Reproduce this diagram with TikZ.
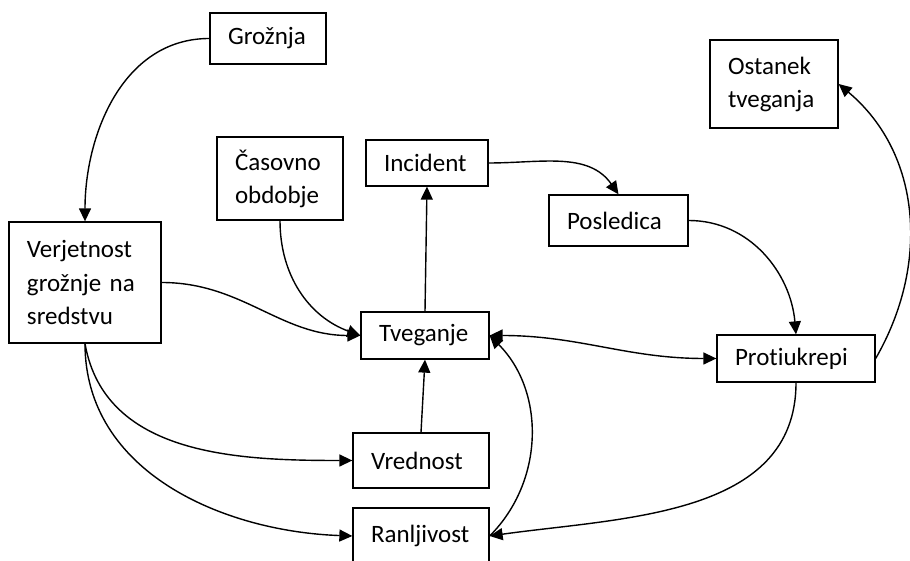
\documentclass[tikz,border=0pt]{standalone}
\usepackage{fontspec}
\setmainfont{Carlito}[Ligatures=NoCommon]
\usetikzlibrary{arrows.meta}

\begin{document}
\begin{tikzpicture}[x=1pt, y=1pt, >={Triangle[length=13pt, width=12pt]},
    box/.style={rectangle, draw, line width=1.3pt, align=left, inner xsep=18pt,
                inner ysep=2pt, font=\fontsize{25}{33}\selectfont},
    link/.style={line width=1.4pt}]
    \useasboundingbox (0,0) rectangle (910,561);

    \node[box, text width=80pt, minimum height=51pt] (groznja) at (268,522.5) {Grožnja};
    \node[box, text width=116pt, minimum height=121pt] (verjetnost) at (85,278.5) {Verjetnost\\grožnje na\\sredstvu};
    \node[box, text width=90pt, minimum height=83pt] (casovno) at (280,382.5) {Časovno\\obdobje};
    \node[box, text width=86pt, minimum height=46pt] (incident) at (427,398) {Incident};
    \node[box, text width=103pt, minimum height=51pt] (posledica) at (618.5,340.5) {Posledica};
    \node[box, text width=92pt, minimum height=88pt] (ostanek) at (774,477) {Ostanek\\tveganja};
    \node[box, text width=92pt, minimum height=47pt] (tveganje) at (425,225.5) {Tveganje};
    \node[box, text width=122pt, minimum height=47pt] (protiukrepi) at (796,202.5) {Protiukrepi};
    \node[box, text width=100pt, minimum height=55pt] (vrednost) at (421,100.5) {Vrednost};
    \node[box, text width=100pt, minimum height=56pt] (ranljivost) at (421,25) {Ranljivost};

    \draw[link, ->] (groznja.west) to[out=180, in=90] (verjetnost.north);
    \draw[link, ->] (casovno.south) to[out=-90, in=160] (tveganje.west);
    \draw[link, ->] (verjetnost.east) to[out=0, in=180] (tveganje.west);
    \draw[link, ->] (tveganje.north) -- (incident.south);
    \draw[link, ->] (incident.east) to[out=0, in=125] (posledica.north);
    \draw[link, ->] (posledica.east) to[out=0, in=95] (protiukrepi.north);
    \draw[link, <->] (tveganje.east) to[out=0, in=180] (protiukrepi.west);
    \draw[link, ->] (protiukrepi.east) to[out=60, in=-40] (ostanek.east);
    \draw[link, ->] (verjetnost.south) to[out=-80, in=180] (vrednost.west);
    \draw[link, ->] (verjetnost.south) to[out=-90, in=178] (ranljivost.west);
    \draw[link, ->] (vrednost.north) -- (tveganje.south);
    \draw[link, ->] (ranljivost.east) to[out=45, in=-45] (tveganje.east);
    \draw[link, ->] (protiukrepi.south) to[out=-90, in=8] (ranljivost.east);
\end{tikzpicture}
\end{document}
